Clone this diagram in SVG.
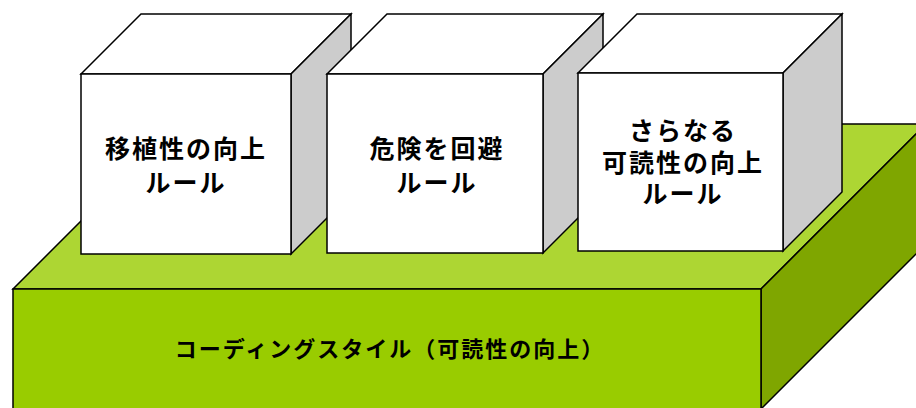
<svg xmlns="http://www.w3.org/2000/svg" width="916" height="408" viewBox="0 0 916 408">
<style>
.e{stroke:#000;stroke-width:1.5;stroke-linejoin:miter}
.gf{fill:#99CC00}.gt{fill:#ADD633}.gs{fill:#7FA600}
.wf{fill:#FFFFFF}.ws{fill:#CCCCCC}
.t{font-family:"Liberation Sans","Noto Sans CJK JP",sans-serif;font-weight:bold;fill:#000;text-anchor:middle}
.bt{font-size:25px;letter-spacing:2px}
.st{font-size:22px;letter-spacing:2px}
</style>
<g id="slab">
<polygon class="e gt" points="13,289 178,124 926,124 761,289"/>
<polygon class="e gs" points="761,289 926,124 926,244 761,409"/>
<rect class="e gf" x="13" y="289" width="748" height="122"/>
<text class="t st" x="390" y="357">コーディングスタイル（可読性の向上）</text>
</g>
<g id="box1">
<polygon class="e wf" points="81,74 141,14 351,14 291,74"/>
<polygon class="e ws" points="291,74 351,14 351,194 291,254"/>
<rect class="e wf" x="81" y="74" width="210" height="180"/>
<text class="t bt" x="186" y="158">移植性の向上</text>
<text class="t bt" x="186" y="192">ルール</text>
</g>
<g id="box2">
<polygon class="e wf" points="327,74 387,14 603,14 543,74"/>
<polygon class="e ws" points="543,74 603,14 603,193 543,253"/>
<rect class="e wf" x="327" y="74" width="216" height="179"/>
<text class="t bt" x="437" y="158">危険を回避</text>
<text class="t bt" x="437" y="192">ルール</text>
</g>
<g id="box3">
<polygon class="e wf" points="578,73 637,14 842,14 783,73"/>
<polygon class="e ws" points="783,73 842,14 842,192 783,251"/>
<rect class="e wf" x="578" y="73" width="205" height="178"/>
<text class="t bt" x="683" y="140">さらなる</text>
<text class="t bt" x="683" y="172">可読性の向上</text>
<text class="t bt" x="683" y="203">ルール</text>
</g>
</svg>
